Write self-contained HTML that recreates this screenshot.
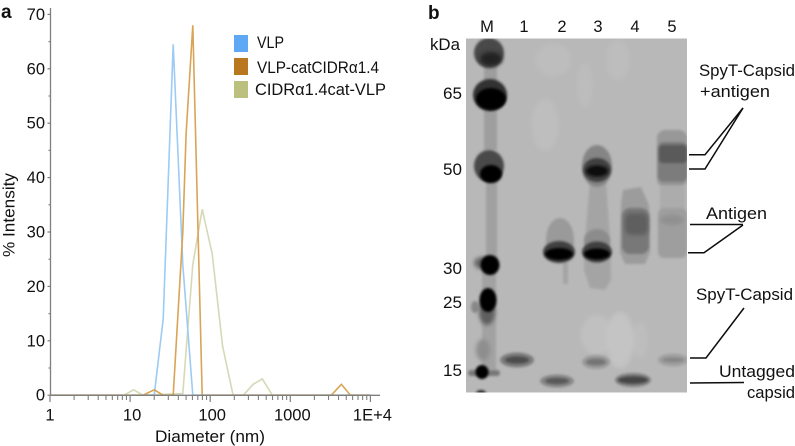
<!DOCTYPE html>
<html lang="en">
<head>
<meta charset="utf-8">
<title>VLP size distribution and SDS-PAGE gel</title>
<style>
html,body{margin:0;padding:0;background:#fff;width:795px;height:446px;overflow:hidden}
svg{display:block}
text{font-family:"Liberation Sans","DejaVu Sans",sans-serif;fill:#111}
</style>
</head>
<body>
<svg id="figure" width="795" height="446" viewBox="0 0 795 446" xmlns="http://www.w3.org/2000/svg">
  <defs>
    <filter id="b1" x="-40%" y="-80%" width="180%" height="260%"><feGaussianBlur stdDeviation="1.2"/></filter>
    <filter id="b2" x="-40%" y="-80%" width="180%" height="260%"><feGaussianBlur stdDeviation="2.2"/></filter>
    <filter id="b4" x="-50%" y="-50%" width="200%" height="200%"><feGaussianBlur stdDeviation="4"/></filter>
    <clipPath id="gel-clip"><rect x="466" y="38.5" width="221" height="354"/></clipPath>
  </defs>

  <text x="1" y="18" font-size="19" style="font-weight:bold">a</text>
  <text x="428" y="19" font-size="19" style="font-weight:bold">b</text>

  <g id="chart"></g>

  <g>
    <g>
      <rect x="234" y="35" width="14" height="17" fill="#5ea8f5"/>
      <text x="257" y="48" font-size="16.5" textLength="27" lengthAdjust="spacingAndGlyphs">VLP</text>
    </g>
    <g>
      <rect x="234" y="58" width="14" height="17" fill="#b9781e"/>
      <text x="257" y="73" font-size="16.5" textLength="122" lengthAdjust="spacingAndGlyphs">VLP-catCIDRα1.4</text>
    </g>
    <g>
      <rect x="234" y="81" width="14" height="17" fill="#bcc07e"/>
      <text x="255" y="95" font-size="16.5" textLength="131" lengthAdjust="spacingAndGlyphs">CIDRα1.4cat-VLP</text>
    </g>
  </g>

  <g clip-path="url(#gel-clip)">
    <rect x="466" y="38.5" width="221" height="354" fill="#b8b8b8"/>
    <!-- light background patches -->
    <g fill="#c6c6c6" filter="url(#b2)">
      <ellipse cx="553" cy="60" rx="18" ry="16" opacity=".4"/>
      <ellipse cx="545" cy="125" rx="14" ry="26" opacity=".45"/>
      <ellipse cx="585" cy="85" rx="8" ry="22" opacity=".3"/>
      <ellipse cx="618" cy="60" rx="12" ry="20" opacity=".35"/>
      <ellipse cx="597" cy="335" rx="16" ry="20" opacity=".55"/>
      <ellipse cx="620" cy="340" rx="14" ry="28" opacity=".85"/>
      <ellipse cx="640" cy="340" rx="8" ry="18" opacity=".4"/>
    </g>
    <!-- marker lane -->
    <g>
      <rect x="484" y="60" width="13" height="90" fill="#9e9e9e" filter="url(#b1)"/>
      <rect x="486" y="180" width="11" height="80" fill="#a0a0a0" filter="url(#b1)"/>
      <rect x="482" y="270" width="14" height="100" fill="#a2a2a2" filter="url(#b1)"/>
      <ellipse cx="483" cy="350" rx="7" ry="11" fill="#8e8e8e" filter="url(#b2)"/>
      <g>
        <ellipse cx="489" cy="53" rx="15" ry="15" fill="#4a4a4a" filter="url(#b1)"/>
        <ellipse cx="491" cy="59" rx="11" ry="7" fill="#222" filter="url(#b2)"/>
      </g>
      <g>
        <ellipse cx="490" cy="95" rx="17" ry="16" fill="#333" filter="url(#b1)"/>
        <ellipse cx="491" cy="99" rx="15" ry="11" fill="#040404" filter="url(#b1)"/>
      </g>
      <g>
        <ellipse cx="489" cy="166" rx="15" ry="16" fill="#4a4a4a" filter="url(#b1)"/>
        <ellipse cx="491" cy="174" rx="11" ry="9" fill="#040404" filter="url(#b1)"/>
      </g>
      <g>
        <ellipse cx="482" cy="263" rx="8" ry="6" fill="#666" filter="url(#b2)"/>
        <ellipse cx="490" cy="265" rx="9.5" ry="10" fill="#060606" filter="url(#b1)"/>
      </g>
      <g>
        <ellipse cx="475" cy="307" rx="4" ry="6" fill="#888" filter="url(#b1)"/>
        <ellipse cx="487" cy="312" rx="8" ry="13" fill="#5e5e5e" filter="url(#b2)"/>
        <ellipse cx="488" cy="300" rx="8.5" ry="12" fill="#060606" filter="url(#b1)"/>
      </g>
      <g>
        <rect x="468" y="370" width="32" height="6" rx="3" fill="#777" filter="url(#b1)"/>
        <ellipse cx="482" cy="372" rx="6.5" ry="7" fill="#060606" filter="url(#b1)"/>
        <ellipse cx="481" cy="393" rx="5" ry="3" fill="#333" filter="url(#b1)"/>
      </g>
    </g>
    <!-- lane 1 -->
    <g>
      <ellipse cx="517" cy="360" rx="17" ry="7.5" fill="#7c7c7c" filter="url(#b1)"/>
      <ellipse cx="517" cy="360" rx="12" ry="3.6" fill="#4c4c4c" filter="url(#b1)"/>
    </g>
    <!-- lane 2 -->
    <g>
      <ellipse cx="560" cy="240" rx="14" ry="22" fill="#9a9a9a" filter="url(#b1)"/>
      <rect x="563" y="262" width="5" height="22" fill="#a4a4a4" filter="url(#b1)"/>
      <ellipse cx="559" cy="252" rx="16" ry="11" fill="#404040" filter="url(#b1)"/>
      <ellipse cx="559" cy="254" rx="14" ry="6" fill="#050505" filter="url(#b1)"/>
      <ellipse cx="557" cy="381" rx="17" ry="6.5" fill="#878787" filter="url(#b1)"/>
      <ellipse cx="557" cy="381" rx="12" ry="3.2" fill="#585858" filter="url(#b1)"/>
    </g>
    <!-- lane 3 -->
    <g>
      <path d="M590 180 L606 180 L610 240 L611 280 L605 290 L590 288 L584 270 L585 240 Z" fill="#a4a4a4" filter="url(#b1)"/>
      <ellipse cx="597" cy="166" rx="15" ry="21" fill="#858585" filter="url(#b1)"/>
      <ellipse cx="597" cy="170" rx="14" ry="12" fill="#404040" filter="url(#b1)"/>
      <ellipse cx="597" cy="171" rx="11" ry="5.5" fill="#0c0c0c" filter="url(#b1)"/>
      <ellipse cx="597" cy="241" rx="13" ry="12" fill="#8c8c8c" filter="url(#b1)"/>
      <ellipse cx="597" cy="252" rx="15" ry="10.5" fill="#404040" filter="url(#b1)"/>
      <ellipse cx="597" cy="254" rx="13" ry="5.5" fill="#050505" filter="url(#b1)"/>
      <ellipse cx="596" cy="362" rx="14" ry="7" fill="#9a9a9a" filter="url(#b1)"/>
      <ellipse cx="596" cy="362" rx="10" ry="3.5" fill="#757575" filter="url(#b1)"/>
    </g>
    <!-- lane 4 -->
    <g>
      <path d="M623 190 L641 187 L649 205 L650 252 L645 264 L625 264 L620 252 L621 205 Z" fill="#9c9c9c" filter="url(#b1)"/>
      <rect x="622" y="208" width="27" height="46" rx="8" fill="#787878" filter="url(#b1)"/>
      <rect x="625" y="213" width="23" height="22" rx="6" fill="#5f5f5f" filter="url(#b2)"/>
      <ellipse cx="633" cy="380" rx="18" ry="7" fill="#808080" filter="url(#b1)"/>
      <ellipse cx="633" cy="380" rx="15" ry="3.8" fill="#454545" filter="url(#b1)"/>
    </g>
    <!-- lane 5 -->
    <g>
      <rect x="657" y="130" width="30" height="57" rx="8" fill="#989898" filter="url(#b1)"/>
      <rect x="658" y="142" width="29" height="40" rx="6" fill="#7b7b7b" filter="url(#b1)"/>
      <rect x="659" y="145" width="28" height="18" rx="4" fill="#5a5a5a" filter="url(#b1)"/>
      <rect x="660" y="186" width="25" height="24" fill="#acacac" filter="url(#b1)"/>
      <rect x="658" y="208" width="29" height="50" rx="6" fill="#9e9e9e" filter="url(#b1)"/>
      <ellipse cx="672" cy="220" rx="12" ry="5" fill="#909090" filter="url(#b2)"/>
      <ellipse cx="673" cy="360" rx="15" ry="6.5" fill="#a0a0a0" filter="url(#b1)"/>
      <ellipse cx="673" cy="360" rx="11" ry="2.5" fill="#868686" filter="url(#b1)"/>
    </g>
  </g>

  <g font-size="16.5" text-anchor="middle">
    <text x="487" y="32">M</text>
    <text x="524" y="32">1</text>
    <text x="562" y="32">2</text>
    <text x="598" y="32">3</text>
    <text x="635" y="32">4</text>
    <text x="672" y="32">5</text>
  </g>
  <g font-size="17">
    <text x="430" y="50" textLength="30" lengthAdjust="spacingAndGlyphs">kDa</text>
    <text x="443" y="99" textLength="19" lengthAdjust="spacingAndGlyphs">65</text>
    <text x="443" y="175" textLength="19" lengthAdjust="spacingAndGlyphs">50</text>
    <text x="443" y="274" textLength="19" lengthAdjust="spacingAndGlyphs">30</text>
    <text x="443" y="308" textLength="19" lengthAdjust="spacingAndGlyphs">25</text>
    <text x="443" y="376" textLength="19" lengthAdjust="spacingAndGlyphs">15</text>
  </g>
  <g font-size="17">
    <text x="699" y="76" textLength="96" lengthAdjust="spacingAndGlyphs">SpyT-Capsid</text>
    <text x="700" y="97" textLength="70" lengthAdjust="spacingAndGlyphs">+antigen</text>
    <text x="706" y="219" textLength="61" lengthAdjust="spacingAndGlyphs">Antigen</text>
    <text x="696" y="300" textLength="97" lengthAdjust="spacingAndGlyphs">SpyT-Capsid</text>
    <text x="719" y="377" textLength="76" lengthAdjust="spacingAndGlyphs">Untagged</text>
    <text x="747" y="398" textLength="48" lengthAdjust="spacingAndGlyphs">capsid</text>
  </g>
  <g fill="none" stroke="#0c0c0c" stroke-width="1.5">
    <polyline points="689,154.7 705,154.7 743,108"/>
    <polyline points="689,169 705,169 743,108"/>
    <polyline points="690,224.5 743,224.5"/>
    <polyline points="688,252.7 704,252.7 743,225"/>
    <polyline points="690,358 706,358 744,308"/>
    <polyline points="690,383 744,382.5"/>
  </g>
</svg>

<script>
// Chart values
var yTicks = [0, 10, 20, 30, 40, 50, 60, 70];
var yMinorTicks = [5, 15, 25, 35, 45, 55, 65];
var xTicks = [1, 10, 100, 1000, 10000];
var xTickLabels = ['1', '10', '100', '1000', '1E+4'];
var xMinorDecades = [1, 10, 100, 1000];
var xMinorFactors = [2, 3, 4, 5, 6, 7, 8, 9];

var vlpDiameters = [20, 25.9, 34.5, 45.5, 60.7];
var vlpIntensity = [0, 14, 64.5, 24, 0];

var vlpCatDiameters = [14.5, 20, 25.9, 34.5, 45.5, 50, 60.7, 79.4, 3250, 4340, 5620];
var vlpCatIntensity = [0, 1, 0, 0, 30, 48, 68, 0, 0, 2, 0];

var catVlpDiameters = [8.4, 11.06, 14.5, 45.5, 60.7, 79.4, 106, 143, 193, 259, 344, 447, 596];
var catVlpIntensity = [0, 1, 0, 0.3, 24, 34.2, 26, 9, 0, 0, 2, 3, 0];

var NS = 'http://www.w3.org/2000/svg';
var chart = document.getElementById('chart');
function xScale(d) { return 50 + 80.1 * Math.log10(d); }
function yScale(v) { return 395.2 - 5.44 * v; }

function makeSeries(name, ds, vs, color) {
  var line = document.createElementNS(NS, 'polyline');
  
  
  var pts = [xScale(1) + ',' + yScale(0)];
  for (var i = 0; i < ds.length; i++) {
    pts.push(xScale(ds[i]).toFixed(1) + ',' + yScale(vs[i]).toFixed(1));
  }
  pts.push(xScale(10000) + ',' + yScale(0));
  line.setAttribute('points', pts.join(' '));
  line.setAttribute('fill', 'none');
  line.setAttribute('stroke', color);
  line.setAttribute('stroke-width', '1.6');
  chart.appendChild(line);
}
makeSeries('series-cidr-cat-vlp', catVlpDiameters, catVlpIntensity, '#d6d9b6');
makeSeries('series-vlp', vlpDiameters, vlpIntensity, '#9ccbf3');
makeSeries('series-vlp-cat-cidr', vlpCatDiameters, vlpCatIntensity, '#d9a456');

function addLine(name, x1, y1, x2, y2, w) {
  var l = document.createElementNS(NS, 'line');
  
  
  l.setAttribute('x1', x1);
  l.setAttribute('y1', y1);
  l.setAttribute('x2', x2);
  l.setAttribute('y2', y2);
  l.setAttribute('stroke', '#7f7f7f');
  l.setAttribute('stroke-width', w);
  chart.appendChild(l);
}
function addText(name, x, y, str, anchor) {
  var t = document.createElementNS(NS, 'text');
  
  
  t.setAttribute('x', x);
  t.setAttribute('y', y);
  t.setAttribute('font-size', '16.5');
  t.setAttribute('text-anchor', anchor);
  t.textContent = str;
  chart.appendChild(t);
  return t;
}

addLine('y-axis', 50.5, 8, 50.5, 395.5, 1.3);
addLine('x-axis', 50, 395.3, 380, 395.3, 1.3);

yTicks.forEach(function (v) {
  addLine('y-tick-' + v, 47.5, yScale(v), 50.5, yScale(v), 1.2);
  addText('y-tick-label-' + v, 45, yScale(v) + 5.5, String(v), 'end');
});
yMinorTicks.forEach(function (v) {
  addLine('y-minor-tick-' + v, 48.5, yScale(v), 50.5, yScale(v), 1.2);
});
xTicks.forEach(function (d, i) {
  addLine('x-tick-' + xTickLabels[i], xScale(d), 395.3, xScale(d), 402, 1.2);
  addText('x-tick-label-' + xTickLabels[i], xScale(d) + (i === 0 ? 0 : 2), 420.5, xTickLabels[i], 'middle');
});
xMinorDecades.forEach(function (dec) {
  xMinorFactors.forEach(function (f) {
    addLine('x-minor-tick-' + (dec * f), xScale(dec * f), 395.3, xScale(dec * f), 400, 1.1);
  });
});

var xTitle = addText('x-axis-title', 155, 442, 'Diameter (nm)', 'start');
xTitle.setAttribute('font-size', '17');
xTitle.setAttribute('textLength', '110');
xTitle.setAttribute('lengthAdjust', 'spacingAndGlyphs');

var yTitle = addText('y-axis-title', 0, 0, '% Intensity', 'start');
yTitle.setAttribute('font-size', '17');
yTitle.setAttribute('transform', 'translate(14.5 257) rotate(-90)');
yTitle.setAttribute('textLength', '84');
yTitle.setAttribute('lengthAdjust', 'spacingAndGlyphs');
</script>
</body>
</html>
